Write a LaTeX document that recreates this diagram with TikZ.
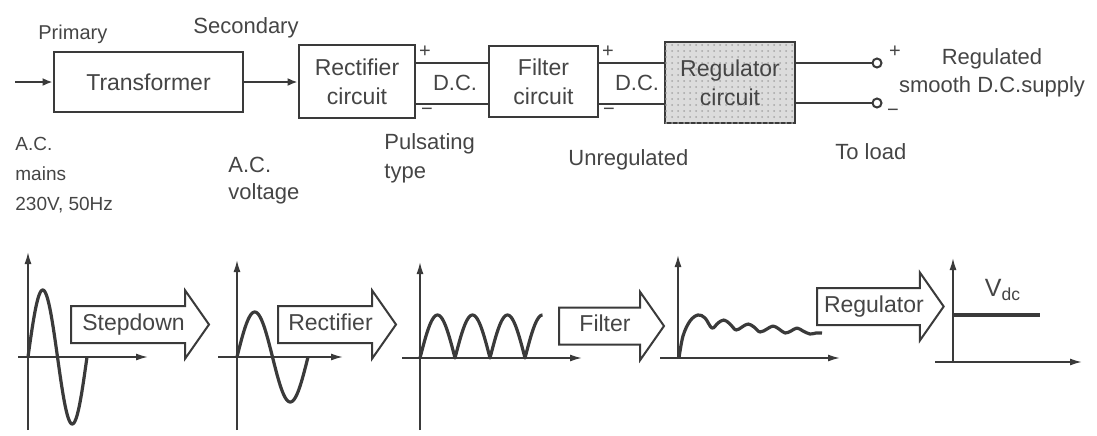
\documentclass[tikz,border=0pt]{standalone}
\usepackage{fontspec}
\setmainfont{Liberation Sans}
\usetikzlibrary{arrows.meta,positioning,shapes.arrows,patterns}
\definecolor{PsuInk}{HTML}{3A3A3A}
\definecolor{PsuText}{HTML}{454545}
\definecolor{PsuShade}{HTML}{DCDCDC}
\newcommand{\Vdc}{V\textsubscript{dc}}

\begin{document}
\begin{tikzpicture}[x=0.5pt,y=-0.5pt,
    every node/.style={text=PsuText},
    block/.style={draw=PsuInk,line width=1.4pt,fill=white,align=center,
      font=\fontsize{11.5}{14.5}\selectfont,inner sep=0pt},
    wire/.style={PsuInk,line width=1pt},
    feed/.style={wire,-{Latex[length=5pt,width=4pt]}},
    axis/.style={PsuInk,line width=0.8pt,-{Latex[length=6pt,width=3.5pt]}},
    wave/.style={PsuInk,line width=1.6pt,line join=round},
    stage/.style={single arrow,draw=PsuInk,line width=1pt,fill=white,
      single arrow head extend=7.75pt,single arrow tip angle=110,
      inner xsep=3pt,inner ysep=3.5pt,text height=8pt,text depth=2.5pt,
      anchor=tail,font=\fontsize{11.5}{12}\selectfont},
    lbl/.style={font=\fontsize{11}{14}\selectfont,align=left,inner sep=0pt,anchor=north west},
    tag/.style={font=\fontsize{11}{12}\selectfont,inner sep=0pt},
    sign/.style={font=\fontsize{10}{10}\selectfont,inner sep=0pt},
    term/.style={circle,draw=PsuInk,line width=1pt,fill=white,minimum size=4.5pt,inner sep=0pt}]

  \useasboundingbox (0,0) rectangle (1097,435);

  % block diagram
  \node[block,minimum width=94.5pt,minimum height=30pt] (trans) at (148.5,82) {Transformer};
  \node[block,minimum width=58pt,minimum height=36.5pt] (rect) at (357,81.5) {Rectifier\\circuit};
  \node[block,minimum width=54.5pt,minimum height=35.5pt] (filt) at (543.5,81.5) {Filter\\circuit};
  \node[block,fill=PsuShade,postaction={pattern=dots,pattern color=gray!70},
    minimum width=65pt,minimum height=40.5pt] (regc) at (730,82.5) {Regulator\\circuit};

  \coordinate (acin) at (15,82);
  \draw[feed] (acin) -- (trans);
  \draw[feed] (trans.east) -- (trans.east -| rect.west);
  \draw[wire] ([yshift=9.5pt]rect.east) -- ([yshift=9.5pt]rect.east -| filt.west);
  \draw[wire] ([yshift=-11.25pt]rect.east) -- ([yshift=-11.25pt]rect.east -| filt.west);
  \draw[wire] ([yshift=9.25pt]filt.east) -- ([yshift=9.25pt]filt.east -| regc.west);
  \draw[wire] ([yshift=-11.25pt]filt.east) -- ([yshift=-11.25pt]filt.east -| regc.west);

  \node[term] (tplus) at (877,63) {};
  \node[term] (tminus) at (877,103) {};
  \draw[wire] (regc.east |- tplus) -- (tplus);
  \draw[wire] (regc.east |- tminus) -- (tminus);

  \node[sign] (rplus) at (425,52) {+};
  \node[sign] (rminus) at (427,112) {−};
  \node[sign] (fplus) at (608,52) {+};
  \node[sign] (fminus) at (609,112) {−};
  \node[sign] (oplus) at (895,52) {+};
  \node[sign] (ominus) at (893,113) {−};
  \node[tag] (dcone) at (455,83) {D.C.};
  \node[tag] (dctwo) at (637,83) {D.C.};

  % labels
  \node[lbl,font=\fontsize{10}{12}\selectfont] (prim) at (38,25) {Primary};
  \node[lbl] (sec) at (193,17) {Secondary};
  \node[lbl,font=\fontsize{9.5}{15}\selectfont] (mains) at (15,137) {A.C.\\mains\\230V, 50Hz};
  \node[lbl,font=\fontsize{11}{13.5}\selectfont] (acv) at (228,157) {A.C.\\voltage};
  \node[lbl,font=\fontsize{11}{14.5}\selectfont] (puls) at (384,133) {Pulsating\\type};
  \node[lbl] (unreg) at (568,149) {Unregulated};
  \node[lbl] (load) at (835,143) {To load};
  \node[lbl,align=center,anchor=north] (smooth) at (992,48) {Regulated\\smooth D.C.supply};

  % waveforms
  \foreach \ox/\oy/\ty/\lx/\rx in {28/357/252/18/148, 237/357/260/218/343, 420/358/262/402/582}{
    \draw[axis] (\ox,430) -- (\ox,\ty);
    \draw[axis] (\lx,\oy) -- (\rx,\oy);
  }
  \draw[axis] (678,358) -- (678,255);
  \draw[axis] (660,358) -- (840,358);
  \draw[axis] (953,362) -- (953,258);
  \draw[axis] (935,362) -- (1082,362);

  \draw[wave] plot[domain=0:360,samples=73] ({28+\x/360*59},{357-67*sin(\x)});
  \draw[wave] plot[domain=0:360,samples=73] ({237+\x/360*71},{357-45*sin(\x)});
  \draw[wave] plot[domain=0:630,samples=127] ({420+\x/180*35},{358-43*abs(sin(\x))});
  \draw[wave] plot[smooth,tension=0.6] coordinates {(679,358) (683,336) (690,321) (698,315)
    (705,318) (712,328) (718,323) (724,320) (730,324) (736,330) (742,327) (748,324)
    (754,327) (760,332) (767,329) (773,326) (779,329) (785,333) (791,331) (797,328)
    (803,331) (810,334) (816,333) (822,333)};
  \draw[PsuInk,line width=2.2pt] (953,315) -- (1040,315);
  \node[font=\fontsize{12.5}{12}\selectfont] (vdc) at (1003,290) {\Vdc};

  % stage arrows
  \node[stage,minimum height=69pt] (stepdn) at (70,324.5) {Stepdown};
  \node[stage,minimum height=59pt] (rectar) at (277,324.5) {Rectifier};
  \node[stage,minimum height=52.5pt] (filtar) at (558,326) {Filter};
  \node[stage,minimum height=62pt] (regar) at (816,306.5) {Regulator};
\end{tikzpicture}
\end{document}
